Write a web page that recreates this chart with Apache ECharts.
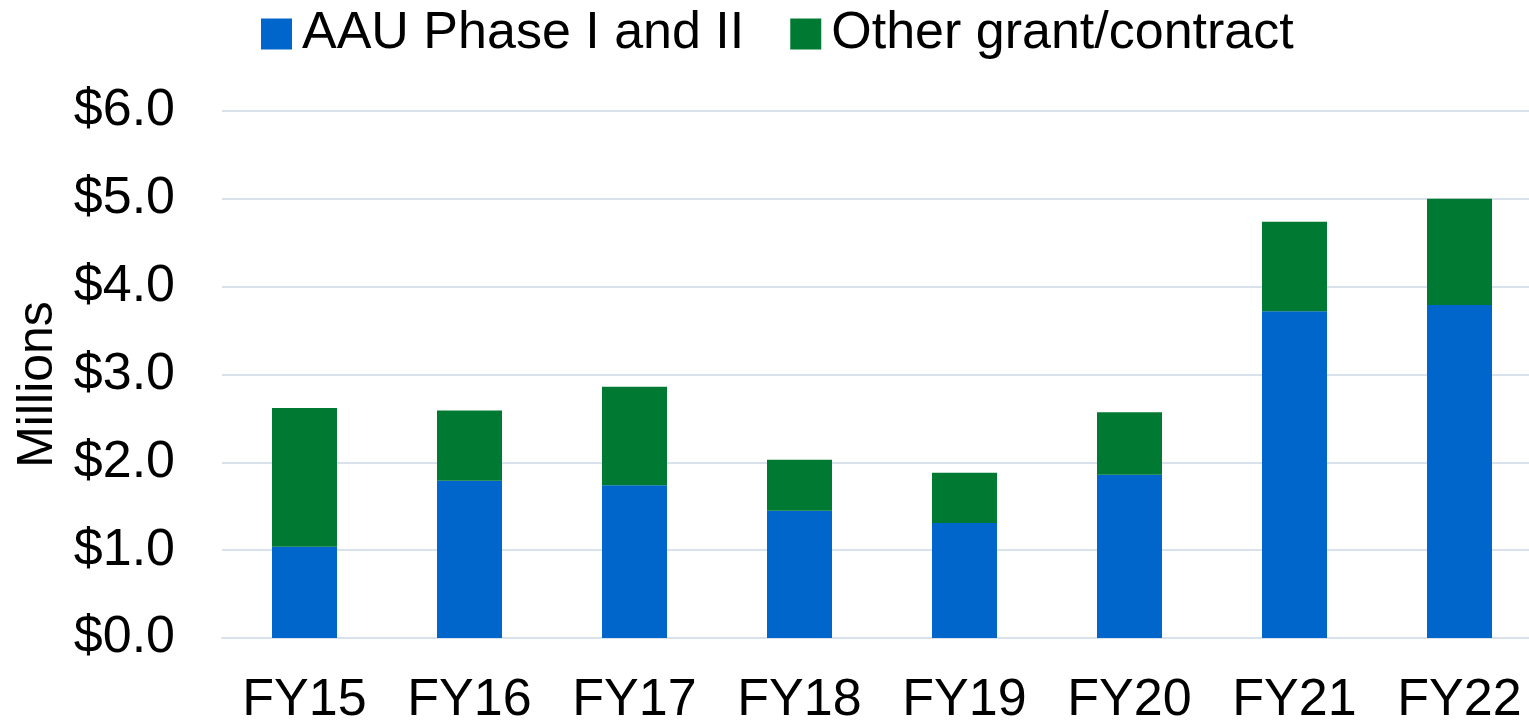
<!DOCTYPE html>
<html>
<head>
<meta charset="utf-8">
<script src="https://cdn.jsdelivr.net/npm/echarts@6/dist/echarts.min.js"></script>
<style>
  html, body { margin: 0; padding: 0; background: #fff; }
  #main { width: 1529px; height: 727px; }
</style>
</head>
<body>
<div id="main"></div>
<script>
    // data, in millions of dollars
    const years = ['FY15', 'FY16', 'FY17', 'FY18', 'FY19', 'FY20', 'FY21', 'FY22'];
    const aauPhase = [1.04, 1.79, 1.74, 1.45, 1.31, 1.86, 3.72, 3.79];
    const otherGrant = [1.58, 0.80, 1.12, 0.58, 0.57, 0.71, 1.02, 1.21];
    const seriesNames = ['AAU Phase I and II', 'Other grant/contract'];

    const font = '"Liberation Sans", Arial, sans-serif';
    const gridColor = '#D9E2EC';

    const myChart = echarts.init(document.getElementById('main'));
    const option = {
        animation: false,
        color: ['#0066CC', '#007A33'],
        textStyle: {fontFamily: font, color: '#000'},
        legend: {
            data: seriesNames,
            left: 256,
            top: 3,
            itemWidth: 31,
            itemHeight: 31,
            itemGap: 46,
            icon: 'rect',
            textStyle: {
                fontFamily: font,
                fontSize: 52,
                color: '#000',
                padding: [0, 0, 0, 5]
            }
        },
        // plot area runs a little past the right edge of the canvas
        grid: {
            left: 222,
            width: 1320,
            top: 111,
            bottom: 89,
            outerBoundsMode: 'none',
            containLabel: false
        },
        xAxis: {
            type: 'category',
            data: years,
            axisLine: {lineStyle: {color: gridColor, width: 2}},
            axisTick: {show: false},
            axisLabel: {fontFamily: font, fontSize: 52, color: '#000', margin: 37}
        },
        yAxis: {
            type: 'value',
            min: 0,
            max: 6,
            interval: 1,
            name: 'Millions',
            nameLocation: 'middle',
            nameGap: 156,
            nameTextStyle: {fontFamily: font, fontSize: 50, color: '#000', padding: [0, 20, 0, 0]},
            axisLine: {show: false},
            axisTick: {show: false},
            splitLine: {lineStyle: {color: gridColor, width: 2}},
            axisLabel: {
                fontFamily: font,
                fontSize: 52,
                color: '#000',
                margin: 47,
                formatter: function (v) {
                    return '$' + v.toFixed(1);
                }
            }
        },
        series: [{
            name: seriesNames[0],
            type: 'bar',
            stack: 'total',
            barWidth: 65,
            data: aauPhase
        }, {
            name: seriesNames[1],
            type: 'bar',
            stack: 'total',
            barWidth: 65,
            data: otherGrant
        }]
    };
    myChart.setOption(option);
</script>
</body>
</html>
